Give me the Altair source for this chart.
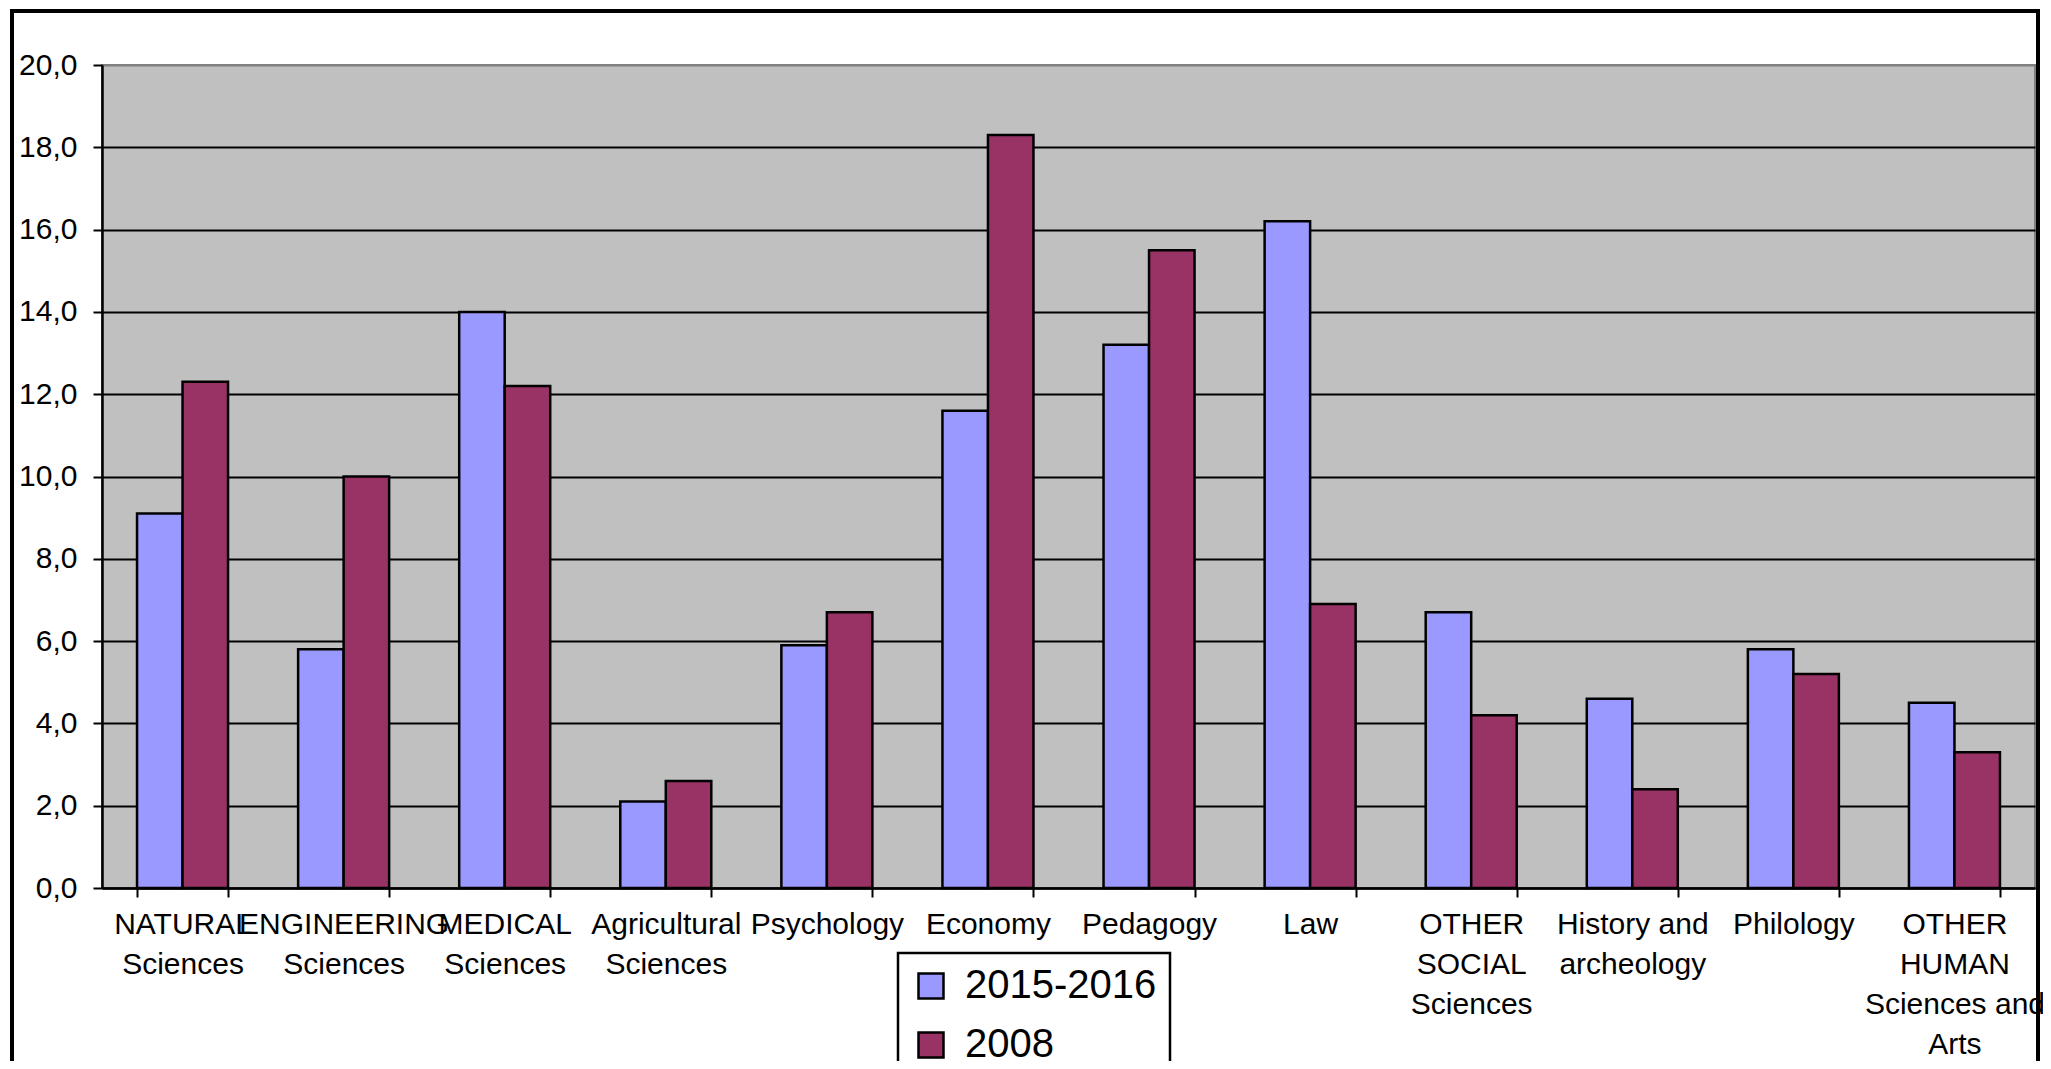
import altair as alt
import pandas as pd

categories = [
    "NATURAL\nSciences",
    "ENGINEERING\nSciences",
    "MEDICAL\nSciences",
    "Agricultural\nSciences",
    "Psychology",
    "Economy",
    "Pedagogy",
    "Law",
    "OTHER\nSOCIAL\nSciences",
    "History and\narcheology",
    "Philology",
    "OTHER\nHUMAN\nSciences and\nArts",
]
series = ["2015-2016", "2008"]
values_2015 = [9.1, 5.8, 14.0, 2.1, 5.9, 11.6, 13.2, 16.2, 6.7, 4.6, 5.8, 4.5]
values_2008 = [12.3, 10.0, 12.2, 2.6, 6.7, 18.3, 15.5, 6.9, 4.2, 2.4, 5.2, 3.3]
colors = ["#9999FF", "#993366"]
y_ticks = [0, 2, 4, 6, 8, 10, 12, 14, 16, 18, 20]

rows = []
for c, a, b in zip(categories, values_2015, values_2008):
    rows.append({"category": c, "series": series[0], "value": a})
    rows.append({"category": c, "series": series[1], "value": b})
df = pd.DataFrame(rows)

FONT = "Liberation Sans, Arial"

bars = alt.Chart(df).mark_bar(stroke="black", strokeWidth=2.5).encode(
    x=alt.X(
        "category:N",
        sort=categories,
        title=None,
        scale=alt.Scale(paddingInner=0.435, paddingOuter=0.2175),
        axis=alt.Axis(
            labelAngle=0,
            labelExpr="split(datum.label, '\\n')",
            labelFont=FONT,
            labelFontSize=30,
            labelColor="black",
            labelLineHeight=40,
            labelPadding=12,
            labelLimit=400,
            labelOverlap=False,
            labelBound=False,
            labelFlush=False,
            tickBand="extent",
            tickSize=9,
            tickWidth=2,
            tickColor="black",
            domainColor="black",
            domainWidth=2.5,
            grid=False,
        ),
    ),
    xOffset=alt.XOffset("series:N", sort=series, scale=alt.Scale(domain=series, paddingInner=0, paddingOuter=0)),
    y=alt.Y(
        "value:Q",
        title=None,
        scale=alt.Scale(domain=[0, 20], nice=False),
        axis=alt.Axis(
            values=y_ticks,
            labelExpr="replace(format(datum.value, '.1f'), '.', ',')",
            labelFont=FONT,
            labelFontSize=30,
            labelColor="black",
            labelPadding=16,
            tickSize=9,
            tickWidth=2,
            tickColor="black",
            domainColor="black",
            domainWidth=2.5,
            grid=True,
            gridColor={"condition": {"test": "datum.value == 20", "value": "#808080"}, "value": "black"},
            gridWidth=2,
        ),
    ),
    color=alt.Color(
        "series:N",
        sort=series,
        scale=alt.Scale(domain=series, range=colors),
        legend=alt.Legend(
            title=None,
            orient="none",
            legendX=796,
            legendY=888,
            symbolType="square",
            symbolSize=625,
            symbolStrokeColor="black",
            symbolStrokeWidth=2.5,
            symbolOpacity=1,
            labelFont=FONT,
            labelFontSize=40,
            labelColor="black",
            labelOffset=14,
            rowPadding=19,
            padding=13,
            strokeColor="black",
            fillColor="white",
            labelLimit=400,
        ),
    ),
)

frame = alt.Chart(df).mark_rect(fillOpacity=0, stroke="black", strokeWidth=3).encode(
    x=alt.value(-90),
    x2=alt.value(1936),
    y=alt.value(-54),
    y2=alt.value(1100),
)

chart = alt.layer(frame, bars).properties(
    width=1933,
    height=823,
    padding={"left": 94, "top": 57, "right": 8, "bottom": 173},
    autosize=alt.AutoSizeParams(type="none"),
    background="white",
).configure_view(
    fill="#C0C0C0",
    stroke="#808080",
    strokeWidth=2,
).configure_legend(
    strokeWidth=2.5,
)

chart.save("out.html", embed_options={"renderer": "svg", "actions": False})
